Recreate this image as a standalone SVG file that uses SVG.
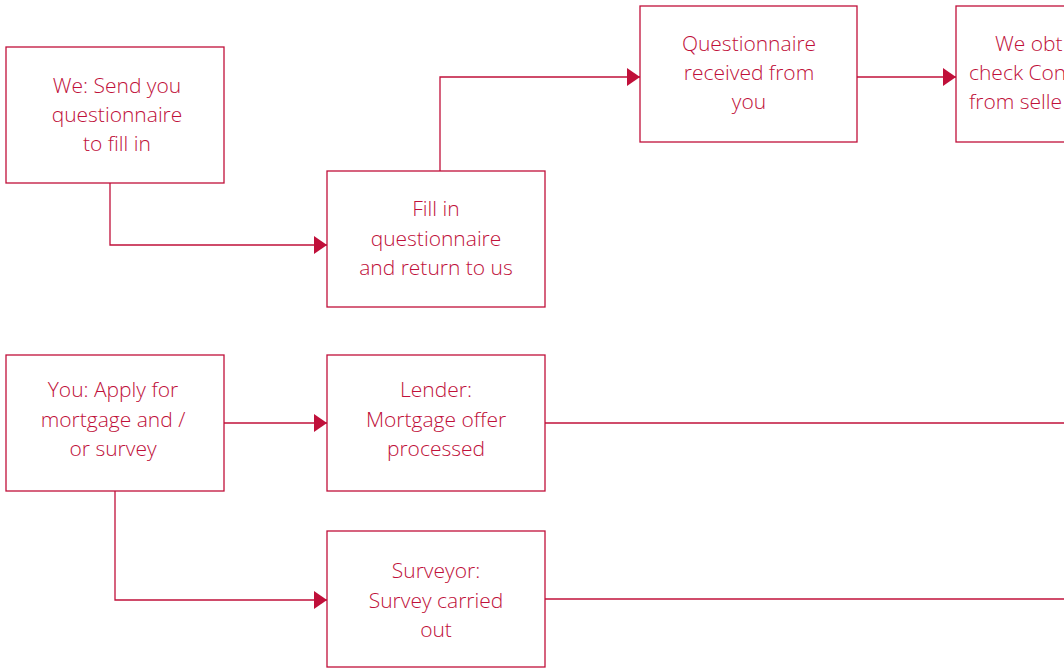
<svg xmlns="http://www.w3.org/2000/svg" width="1064" height="668" viewBox="0 0 1064 668">
<style>
.box{fill:#fff;stroke:#c0103a;stroke-width:1.3}
.t{font-family:"Open Sans","Liberation Sans",sans-serif;font-weight:300;font-size:21px;fill:#c0103a;text-anchor:middle}
.ts{font-family:"Open Sans","Liberation Sans",sans-serif;font-weight:300;font-size:21px;fill:#c0103a;text-anchor:start}
.c{fill:none;stroke:#c0103a;stroke-width:1.3}
</style>
<defs>
<marker id="ah" viewBox="0 0 13 18" refX="13" refY="9" markerWidth="13" markerHeight="18" markerUnits="userSpaceOnUse" orient="auto">
<path d="M0,0 L13,9 L0,18 Z" fill="#c0103a"/>
</marker>
</defs>
<rect width="1064" height="668" fill="#fff"/>
<g id="connectors">
<path class="c" d="M110,183 V245 H327" marker-end="url(#ah)"/>
<path class="c" d="M440,171 V77 H640" marker-end="url(#ah)"/>
<path class="c" d="M857,77 H956" marker-end="url(#ah)"/>
<path class="c" d="M224,423 H327" marker-end="url(#ah)"/>
<path class="c" d="M115,491 V600 H327" marker-end="url(#ah)"/>
<path class="c" d="M545,423 H1064"/>
<path class="c" d="M545,599 H1064"/>
</g>
<g id="n1">
<rect class="box" x="6" y="47" width="218" height="136"/>
<text class="t" x="117" y="93">We: Send you</text>
<text class="t" x="117" y="122">questionnaire</text>
<text class="t" x="117" y="151">to fill in</text>
</g>
<g id="n2">
<rect class="box" x="327" y="171" width="218" height="136"/>
<text class="t" x="436" y="216">Fill in</text>
<text class="t" x="436" y="246">questionnaire</text>
<text class="t" x="436" y="275">and return to us</text>
</g>
<g id="n3">
<rect class="box" x="640" y="6" width="217" height="136"/>
<text class="t" x="749" y="51">Questionnaire</text>
<text class="t" x="749" y="80">received from</text>
<text class="t" x="749" y="109">you</text>
</g>
<g id="n4">
<rect class="box" x="956" y="6" width="218" height="136"/>
<text class="ts" x="995" y="51">We obt</text>
<text class="ts" x="969" y="80">check Con</text>
<text class="ts" x="969" y="109">from selle</text>
</g>
<g id="n5">
<rect class="box" x="6" y="355" width="218" height="136"/>
<text class="t" x="113" y="397">You: Apply for</text>
<text class="t" x="113" y="427">mortgage and /</text>
<text class="t" x="113" y="456">or survey</text>
</g>
<g id="n6">
<rect class="box" x="327" y="355" width="218" height="136"/>
<text class="t" x="436" y="397">Lender:</text>
<text class="t" x="436" y="427">Mortgage offer</text>
<text class="t" x="436" y="456">processed</text>
</g>
<g id="n7">
<rect class="box" x="327" y="531" width="218" height="136"/>
<text class="t" x="436" y="578">Surveyor:</text>
<text class="t" x="436" y="608">Survey carried</text>
<text class="t" x="436" y="637">out</text>
</g>
</svg>
